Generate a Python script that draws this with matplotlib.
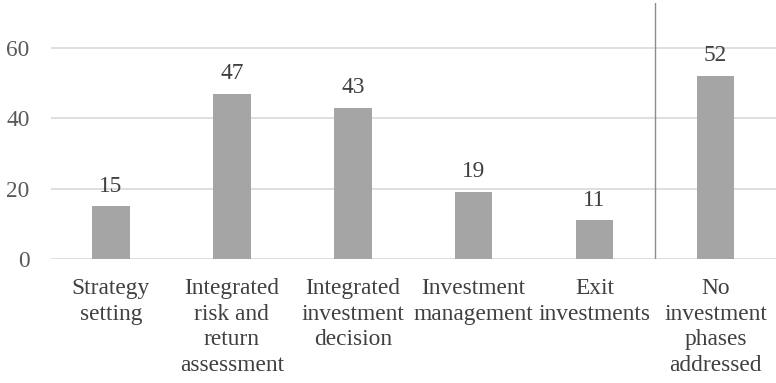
import matplotlib
matplotlib.use('Agg')
import matplotlib.pyplot as plt
import numpy as np

categories = ['Strategy\nsetting',
              'Integrated\nrisk and\nreturn\nassessment',
              'Integrated\ninvestment\ndecision',
              'Investment\nmanagement',
              'Exit\ninvestments',
              'No\ninvestment\nphases\naddressed']
counts = [15, 47, 43, 19, 11, 52]
yticks = [0, 20, 40, 60]

plt.rcParams['font.family'] = ['Liberation Serif', 'DejaVu Serif']

fig = plt.figure(figsize=(7.76, 3.83), dpi=100)
ax = fig.add_axes([0.0651, 0.3238, 0.9349, 0.6684])

x = np.arange(len(categories))
ax.bar(x, counts, width=0.31, color='#a5a5a5', zorder=3)

for xi, c in zip(x, counts):
    ax.annotate(str(c), (xi, c), xytext=(0, 7), textcoords='offset points',
                ha='center', va='bottom', fontsize=16.8, color='#404040')

ax.set_xlim(-0.5, len(categories) - 0.5)
ax.set_ylim(0, 72.8)
ax.set_yticks(yticks)
ax.set_xticks(x)
ax.set_xticklabels(categories, fontsize=16.8, color='#404040', linespacing=1.3)
ax.tick_params(axis='y', length=0, pad=15, labelsize=16.8, labelcolor='#595959')
ax.tick_params(axis='x', length=0, pad=13.5)

for yv in yticks:
    ax.axhline(yv, color='#d9d9d9', lw=1.2, zorder=1)

for s in ax.spines.values():
    s.set_visible(False)

# separator before the last group
ax.axvline(len(categories) - 1.5, color='#8c8c8c', lw=1, zorder=2)

fig.savefig('out.png', dpi=100)
